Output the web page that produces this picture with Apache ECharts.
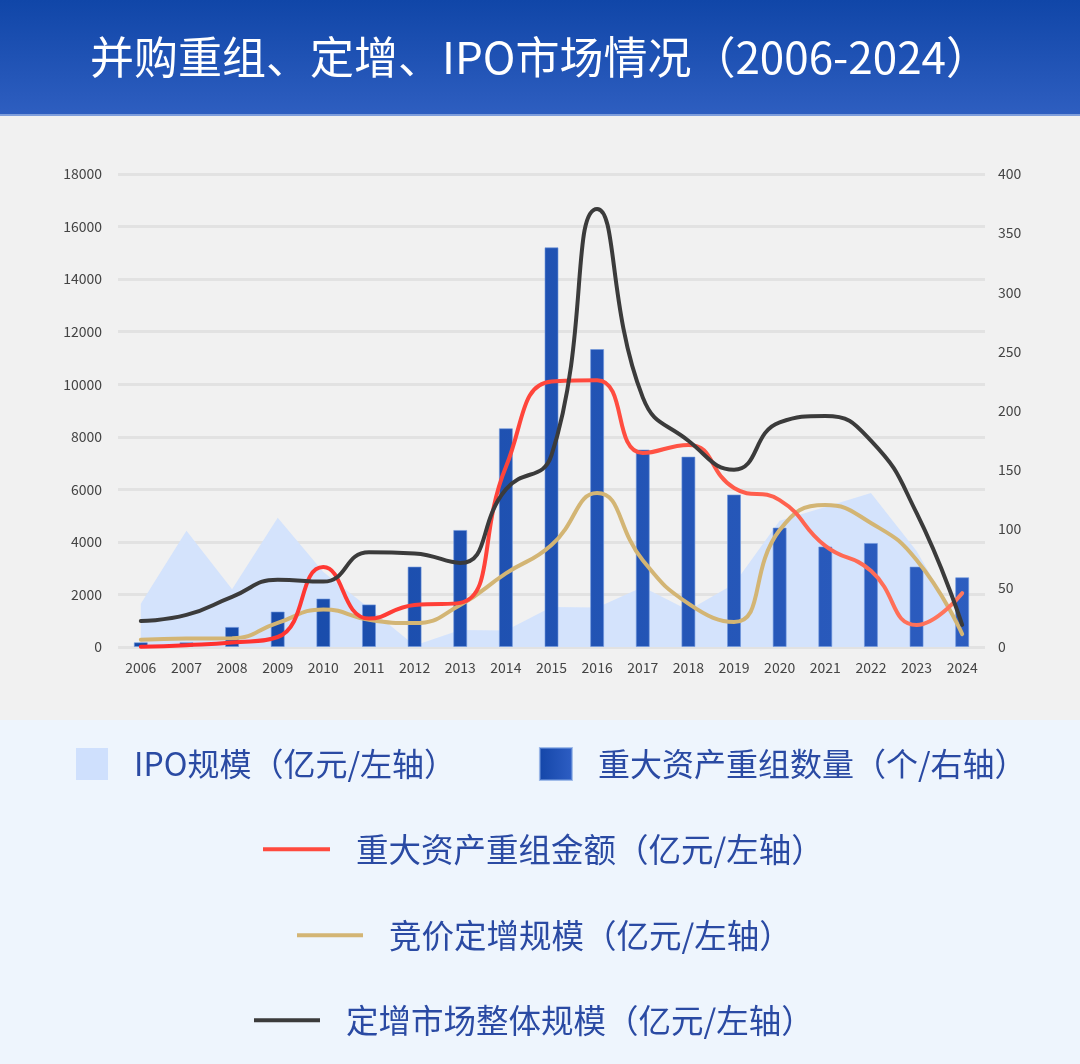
<!DOCTYPE html>
<html>
<head>
<meta charset="utf-8">
<script src="https://cdn.jsdelivr.net/npm/echarts@6/dist/echarts.min.js"></script>
<style>
	html, body { margin: 0; padding: 0; background: #eef5fd; }
	#chart { width: 1080px; height: 1064px; }
</style>
</head>
<body>
<div id="chart"></div>
<script>
// 年份
var years = ['2006', '2007', '2008', '2009', '2010', '2011', '2012', '2013', '2014', '2015',
	'2016', '2017', '2018', '2019', '2020', '2021', '2022', '2023', '2024'];

// IPO规模 (亿元, 左轴)
var ipoScale = [1650, 4420, 2200, 4920, 2850, 1480, 60, 650, 630, 1520,
	1500, 2280, 1400, 2400, 4800, 5330, 5860, 3650, 670];

// 重大资产重组数量 (个, 右轴)
var reorgCount = [4, 4, 17, 30, 41, 36, 68, 99, 185, 338,
	252, 167, 161, 129, 101, 85, 88, 68, 59];

// 重大资产重组金额 (亿元, 左轴)
var reorgAmount = [10, 70, 170, 380, 3040, 1080, 1600, 1680, 6850, 10100,
	10150, 7380, 7690, 6050, 5590, 3850, 2900, 840, 2050];

// 竞价定增规模 (亿元, 左轴)
var biddingScale = [280, 320, 330, 920, 1430, 1040, 910, 1600, 2800, 3880,
	5860, 3300, 1650, 950, 4450, 5400, 4720, 3310, 490];

// 定增市场整体规模 (亿元, 左轴)
var privateTotal = [990, 1220, 1910, 2560, 2490, 3610, 3560, 3200, 6000, 7300,
	16670, 9500, 7850, 6750, 8550, 8790, 7850, 5100, 840];

var leftTicks = { min: 0, max: 18000, interval: 2000 };
var rightTicks = { min: 0, max: 400, interval: 50 };

var font = '"Noto Sans CJK SC", "Noto Sans", sans-serif';
var legendText = { color: '#2a4aa3', fontSize: 32.5, fontFamily: font, padding: [0, 0, 0, 21] };

var chart = echarts.init(document.getElementById('chart'));

var options = {
	backgroundColor: '#eef5fd',
	animation: false,
	title: {
		text: '并购重组、定增、IPO市场情况（2006-2024）',
		left: 'center', top: 30,
		textStyle: { color: '#fff', fontSize: 44, fontWeight: 'normal', fontFamily: font }
	},
	graphic: [
		{	// 顶部蓝色标题栏
			type: 'rect', z: -10, silent: true,
			shape: { x: 0, y: 0, width: 1080, height: 114 },
			style: {
				fill: new echarts.graphic.LinearGradient(0, 0, 0, 1, [
					{ offset: 0, color: '#1046a8' },
					{ offset: 1, color: '#2e5ec0' }
				])
			}
		},
		{
			type: 'rect', z: -10, silent: true,
			shape: { x: 0, y: 114, width: 1080, height: 2 },
			style: { fill: '#7f9edb' }
		},
		{	// 图表区灰色背景
			type: 'rect', z: -10, silent: true,
			shape: { x: 0, y: 116, width: 1080, height: 604 },
			style: { fill: '#f1f1f1' }
		}
	],
	legend: [
		{
			left: 71, top: 742,
			itemWidth: 32, itemHeight: 32, itemGap: 83,
			icon: 'rect',
			textStyle: Object.assign({}, legendText, { fontSize: 32 }),
			data: [
				{ name: 'IPO规模（亿元/左轴）', itemStyle: { color: '#cfe0fd' } },
				{ name: '重大资产重组数量（个/右轴）', itemStyle: {
					color: new echarts.graphic.LinearGradient(0, 0, 1, 0, [
						{ offset: 0, color: '#1446a8' }, { offset: 1, color: '#2e5ec4' }
					])
				} }
			]
		},
		{
			left: 258, top: 828,
			itemWidth: 67, itemHeight: 4, icon: 'rect',
			textStyle: legendText,
			data: [{ name: '重大资产重组金额（亿元/左轴）', itemStyle: { color: '#ff4a3e' } }]
		},
		{
			left: 292, top: 914,
			itemWidth: 66, itemHeight: 4, icon: 'rect',
			textStyle: legendText,
			data: [{ name: '竞价定增规模（亿元/左轴）', itemStyle: { color: '#d3b574' } }]
		},
		{
			left: 249, top: 999,
			itemWidth: 66, itemHeight: 4, icon: 'rect',
			textStyle: legendText,
			data: [{ name: '定增市场整体规模（亿元/左轴）', itemStyle: { color: '#3b3b3b' } }]
		}
	],
	grid: { left: 118, right: 95, top: 174, bottom: 417, containLabel: false },
	xAxis: {
		type: 'category',
		data: years,
		boundaryGap: true,
		axisLine: { show: false },
		axisTick: { show: false },
		axisLabel: { color: '#444', fontSize: 14, margin: 14, fontFamily: font }
	},
	yAxis: [
		{
			type: 'value',
			min: leftTicks.min, max: leftTicks.max, interval: leftTicks.interval,
			axisLine: { show: false },
			axisTick: { show: false },
			axisLabel: { color: '#444', fontSize: 14, margin: 16, fontFamily: font,
				formatter: function (v) { return String(v); } },
			splitLine: { show: true, lineStyle: { color: '#e2e2e2', width: 3 } }
		},
		{
			type: 'value',
			min: rightTicks.min, max: rightTicks.max, interval: rightTicks.interval,
			axisLine: { show: false },
			axisTick: { show: false },
			axisLabel: { color: '#444', fontSize: 14, margin: 13, fontFamily: font },
			splitLine: { show: false }
		}
	],
	series: [
		{
			name: 'IPO规模（亿元/左轴）',
			type: 'line',
			yAxisIndex: 0,
			data: ipoScale,
			showSymbol: false,
			lineStyle: { width: 0 },
			itemStyle: { color: '#cfe0fd' },
			areaStyle: { color: '#d4e3fc', opacity: 1 },
			z: 1
		},
		{
			name: '重大资产重组数量（个/右轴）',
			type: 'bar',
			yAxisIndex: 1,
			data: reorgCount,
			barWidth: 14,
			itemStyle: {
				borderColor: 'rgba(110,150,220,0.6)', borderWidth: 1,
				color: new echarts.graphic.LinearGradient(118, 0, 985, 0, [
					{ offset: 0, color: '#1448a6' }, { offset: 1, color: '#2d5dc0' }
				], true)
			},
			z: 2
		},
		{
			name: '竞价定增规模（亿元/左轴）',
			type: 'line',
			yAxisIndex: 0,
			data: biddingScale,
			smooth: true,
			showSymbol: false,
			lineStyle: { width: 4, color: '#d3b574', cap: 'round' },
			itemStyle: { color: '#d3b574' },
			z: 3
		},
		{
			name: '重大资产重组金额（亿元/左轴）',
			type: 'line',
			yAxisIndex: 0,
			data: reorgAmount,
			smooth: true,
			showSymbol: false,
			lineStyle: {
				width: 4, cap: 'round',
				color: new echarts.graphic.LinearGradient(118, 0, 985, 0, [
					{ offset: 0, color: '#ff2b2b' }, { offset: 0.55, color: '#ff4a3e' }, { offset: 1, color: '#ff7a60' }
				], true)
			},
			itemStyle: { color: '#ff4a3e' },
			z: 4
		},
		{
			name: '定增市场整体规模（亿元/左轴）',
			type: 'line',
			yAxisIndex: 0,
			data: privateTotal,
			smooth: true,
			showSymbol: false,
			lineStyle: { width: 4, color: '#3b3b3b', cap: 'round' },
			itemStyle: { color: '#3b3b3b' },
			z: 5
		}
	]
};

chart.setOption(options);
</script>
</body>
</html>
